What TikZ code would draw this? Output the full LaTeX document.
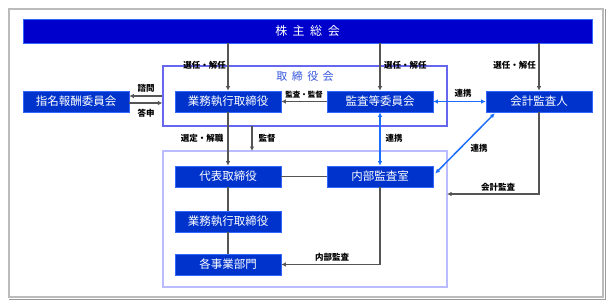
\documentclass[tikz,border=0pt]{standalone}
\usepackage{fontspec}
\setmainfont{Noto Sans CJK JP}
\usetikzlibrary{arrows.meta,calc}
\definecolor{boxblue}{HTML}{0033CC}
\definecolor{boxedge}{HTML}{3366FF}
\definecolor{barblue}{HTML}{0000CC}
\definecolor{toriedge}{HTML}{6666EE}
\definecolor{loweredge}{HTML}{BBBBFF}
\definecolor{lineg}{HTML}{555555}
\definecolor{linkblue}{HTML}{1A6DFF}
\definecolor{framegray}{HTML}{BBBBBB}
\definecolor{shadowgray}{HTML}{999999}
\definecolor{titleblue}{HTML}{3355DD}
\tikzset{
  orgbox/.style={draw=boxedge, line width=0.6pt, fill=boxblue, text=white, minimum width=106pt, minimum height=21pt, inner sep=0pt, font=\fontsize{11.5pt}{12pt}\selectfont},
  grp/.style={draw, line width=1.2pt, inner sep=0pt},
  conn/.style={draw=lineg, line width=1.5pt},
  arr/.style={conn, -{Latex[length=4.5pt,width=4.5pt]}},
  blink/.style={draw=linkblue, line width=1.5pt, {Latex[length=4.5pt,width=4.5pt]}-{Latex[length=4.5pt,width=4.5pt]}},
  lbl/.style={font=\fontsize{8.5pt}{9pt}\selectfont\bfseries, text=black, inner sep=0pt},
}
\begin{document}
\begin{tikzpicture}[x=1pt,y=-1pt]
\useasboundingbox (0,0) rectangle (613,306);
% outer frame
\node[draw=framegray, line width=1.5pt, minimum width=594pt, minimum height=288pt, inner sep=0pt] (outer) at (306,153) {};
\draw[shadowgray, line width=1.2pt] ($(outer.north east)+(1.4,1)$) -- ($(outer.south east)+(1.4,1.4)$) -- ($(outer.south west)+(1,1.4)$);
% group frames
\node[grp, draw=toriedge, minimum width=284pt, minimum height=60pt] (tori) at (305,96) {};
\node[grp, draw=loweredge, minimum width=284pt, minimum height=136pt] (lower) at (305,219) {};
\node[text=titleblue, font=\fontsize{11pt}{12pt}\selectfont, inner sep=0pt] (toriT) at (305,76) {取\hspace{4.5pt}締\hspace{4.5pt}役\hspace{4.5pt}会};
% shareholders bar
\node[draw=boxedge, line width=0.6pt, fill=barblue, text=white, minimum width=569pt, minimum height=24pt, inner sep=0pt, font=\fontsize{12pt}{13pt}\selectfont] (bar) at (307.5,31) {株\hspace{5.5pt}主\hspace{5.5pt}総\hspace{5.5pt}会};
% boxes
\node[orgbox] (shimei) at (76,101.5) {指名報酬委員会};
\node[orgbox] (gyomu1) at (228,101.5) {業務執行取締役};
\node[orgbox] (kansa) at (380,101.5) {監査等委員会};
\node[orgbox] (kaikei) at (539,101.5) {会計監査人};
\node[orgbox] (daihyo) at (228,176.5) {代表取締役};
\node[orgbox] (naibu) at (380,176.5) {内部監査室};
\node[orgbox] (gyomu2) at (228,221.5) {業務執行取締役};
\node[orgbox] (kakuji) at (228,264.5) {各事業部門};
% coordinates
\coordinate (kanA) at (252,126);
\coordinate (kanB) at (252,151);
\coordinate (kaiE) at (447,194);
% gray connectors
\draw[arr] (bar.south -| gyomu1) -- (gyomu1.north);
\draw[arr] (bar.south -| kansa) -- (kansa.north);
\draw[arr] (bar.south -| kaikei) -- (kaikei.north);
\draw[arr] (gyomu1.south) -- (daihyo.north);
\draw[arr] (kanA) -- (kanB);
\draw[arr] (tori.west |- 0,96) -- (shimei.east |- 0,96);
\draw[arr] (shimei.east |- 0,103) -- (tori.west |- 0,103);
\draw[arr] (kansa.west) -- (gyomu1.east);
\draw[conn] (daihyo.east) -- (naibu.west);
\draw[conn] (daihyo.south) -- (gyomu2.north);
\draw[conn] (gyomu2.south) -- (kakuji.north);
\draw[arr] (naibu.south) |- (kakuji.east);
\draw[arr] (kaikei.south) |- (kaiE);
% blue links
\draw[blink] (kansa.east) -- (kaikei.west);
\draw[blink] (kansa.south) -- (naibu.north);
\draw[blink] ($(kaikei.south west)+(9,1)$) -- ($(naibu.east)+(2,-3)$);
% labels
\node[lbl, anchor=east] (l1) at (226,65) {選任・解任};
\node[lbl, anchor=west] (l2) at (384,65) {選任・解任};
\node[lbl, anchor=east] (l3) at (536,65) {選任・解任};
\node[lbl] (l4) at (146,88) {諮問};
\node[lbl] (l5) at (146,113) {答申};
\node[lbl, font=\fontsize{7.5pt}{8pt}\selectfont\bfseries] (l6) at (304,95) {監査・監督};
\node[lbl] (l7) at (463,93) {連携};
\node[lbl] (l8) at (394,138) {連携};
\node[lbl] (l9) at (479,148) {連携};
\node[lbl] (l10) at (202,138) {選定・解職};
\node[lbl] (l11) at (267,138) {監督};
\node[lbl] (l12) at (332,257) {内部監査};
\node[lbl] (l13) at (498,187) {会計監査};
\end{tikzpicture}
\end{document}
